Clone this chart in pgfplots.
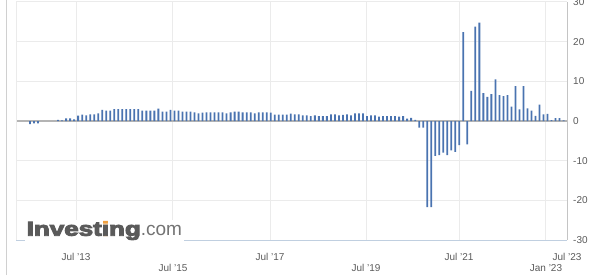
\documentclass[border=0pt]{standalone}
\usepackage{pgfplots}
\pgfplotsset{compat=1.18}
\usepackage{fontspec}
\setmainfont{Liberation Sans}
\usepackage{graphicx}
\definecolor{barblue}{HTML}{4A73B0}
\definecolor{gridgray}{HTML}{EBEBEB}
\definecolor{zerogray}{HTML}{B4B4B4}
\definecolor{axisgray}{HTML}{C4C4C4}
\definecolor{framegray}{HTML}{D0D0D0}
\definecolor{bottomline}{HTML}{C0CFE0}
\definecolor{labelgray}{HTML}{5A5A5A}
\definecolor{logogray}{HTML}{5A5A5A}
\definecolor{logoorange}{HTML}{F0A040}
\newcommand{\lo}[1]{\raisebox{-11bp}[7bp][0bp]{#1}}
\begin{document}
\begin{tikzpicture}[x=1bp,y=1bp]
\useasboundingbox (0,0) rectangle (600,275);
\draw[framegray, line width=1bp] (6.5,0) -- (6.5,275);
\begin{axis}[
  at={(16bp,35bp)}, anchor=south west,
  width=551bp, height=238bp, scale only axis,
  xmin=-3.49, xmax=133.85, ymin=-30, ymax=30,
  axis line style={draw=none},
  major tick length=0pt,
  ybar, bar width=1.8bp, bar shift=0pt,
  xtick={11.47,35.64,59.82,83.75,106.93,128.61,133.85},
  xticklabels={Jul '13,\lo{Jul '15},Jul '17,\lo{Jul '19},Jul '21,\lo{Jan '23},Jul '23},
  xticklabel style={anchor=base, yshift=-20bp, inner sep=0pt, font=\fontsize{10bp}{12bp}\selectfont, text=labelgray},
  ytick={-30,-20,-10,0,10,20,30},
  yticklabels={-30,-20,-10,0,10,20,30},
  yticklabel pos=right,
  yticklabel style={anchor=west, xshift=6bp, inner sep=0pt, font=\fontsize{10bp}{12bp}\selectfont, text=labelgray},
  xmajorgrids, ymajorgrids,
  major grid style={gridgray, line width=1bp},
  extra y ticks={0}, extra y tick labels={},
  extra y tick style={grid=major, major grid style={zerogray, line width=1.4bp}},
  clip=false,
]
\addplot[fill=barblue, draw=none] coordinates {
(0,-0.8)(1,-0.6)(2,-0.6)(7,0.3)(8,0.15)(9,0.65)(10,0.65)(11,0.4)(12,1.35)(13,1.6)(14,1.4)(15,1.7)(16,1.7)(17,1.9)(18,2.8)(19,2.6)(20,2.6)(21,3.0)(22,3.0)(23,3.0)(24,3.0)(25,3.0)(26,3.0)(27,3.0)(28,2.6)(29,2.6)(30,2.6)(31,2.6)(32,3.1)(33,2.35)(34,2.35)(35,2.8)(36,2.6)(37,2.6)(38,2.35)(39,2.35)(40,2.35)(41,2.2)(42,1.9)(43,2.1)(44,2.2)(45,2.2)(46,2.2)(47,2.2)(48,2.2)(49,1.9)(50,2.2)(51,2.35)(52,2.35)(53,2.2)(54,2.2)(55,2.2)(56,1.9)(57,2.2)(58,2.2)(59,2.2)(60,2.1)(61,1.6)(62,1.6)(63,1.6)(64,1.6)(65,1.85)(66,1.7)(67,1.7)(68,1.4)(69,1.4)(70,1.25)(71,1.4)(72,1.25)(73,1.25)(74,1.25)(75,1.7)(76,1.7)(77,1.4)(78,1.55)(79,1.7)(80,1.4)(81,1.9)(82,1.9)(83,1.9)(84,1.25)(85,1.4)(86,1.4)(87,1.1)(88,1.25)(89,1.25)(90,1.25)(91,1.25)(92,1.1)(93,1.2)(94,0.6)(95,0.8)(96,0.3)(97,-1.7)(98,-1.7)(99,-21.7)(100,-21.7)(101,-8.8)(102,-8.6)(103,-8.0)(104,-8.6)(105,-7.4)(106,-7.8)(107,-6.1)(108,22.4)(109,-5.9)(110,7.6)(111,23.8)(112,24.8)(113,7.0)(114,6.1)(115,6.8)(116,10.5)(117,6.55)(118,6.3)(119,6.55)(120,3.6)(121,8.8)(122,2.9)(123,8.8)(124,3.2)(125,2.6)(126,1.3)(127,4.1)(128,1.7)(129,1.8)(130,0.25)(131,0.7)(132,0.7)(133,0.15)
};
\draw[axisgray, line width=1bp] (rel axis cs:1,0) -- (rel axis cs:1,1);
\draw[gridgray, line width=1bp] (rel axis cs:0,0) -- (rel axis cs:0,1);
\draw[bottomline, line width=1bp] (rel axis cs:0,0) -- (rel axis cs:1,0);
\end{axis}
\node[anchor=base west, fill=white, inner sep=1.5bp] at (25,39.3) {%
  {\fontsize{20bp}{20bp}\selectfont\color{logogray}\special{pdf:code 2 Tr 0.9 w}\scalebox{1.3}[1]{\bfseries Invest\ooalign{\textcolor{logoorange}{i}\cr ı}ng}\special{pdf:code 0 Tr}}%
  {\fontsize{19bp}{19bp}\selectfont\color{logogray!85}.com}};
\end{tikzpicture}
\end{document}
